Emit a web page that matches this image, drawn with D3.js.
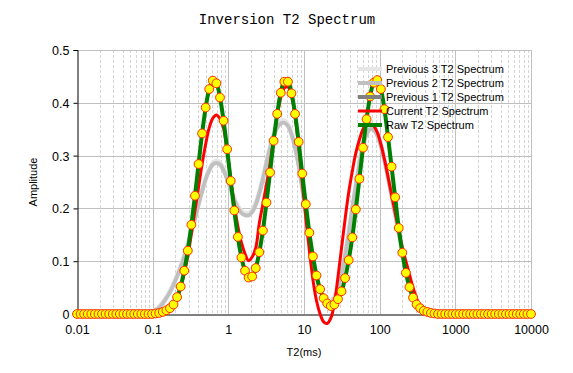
<!DOCTYPE html>
<html>
<head>
<meta charset="utf-8">
<script src="https://cdn.jsdelivr.net/npm/d3@7"></script>
<style>
  html, body { margin: 0; padding: 0; background: #fff; }
  svg { display: block; font-family: "Liberation Sans", Arial, sans-serif; }
</style>
</head>
<body>
<svg id="chart" width="573" height="373"></svg>
<script>
/* Inversion T2 spectrum: raw vs current vs previous inversions */

// T2 bins: 128 log-spaced bins from 0.01 to 10000 ms
const T2_COUNT = 128;
const T2_MIN = 0.01;
const T2_MAX = 10000;

const xTicks = [0.01, 0.1, 1, 10, 100, 1000, 10000];
const xTickLabels = ['0.01', '0.1', '1', '10', '100', '1000', '10000'];
const yTicks = [0, 0.1, 0.2, 0.3, 0.4, 0.5];
const yTickLabels = ['0', '0.1', '0.2', '0.3', '0.4', '0.5'];

const seriesNames = ['Previous 3 T2 Spectrum', 'Previous 2 T2 Spectrum', 'Previous 1 T2 Spectrum', 'Current T2 Spectrum', 'Raw T2 Spectrum'];

const previous3 = [
  0, 0, 0, 0, 0, 0, 0, 0, 0, 0, 0, 0, 0, 0, 0, 0, 0, 0, 0, 0,
  0.002, 0.005, 0.009, 0.015, 0.023, 0.033, 0.045, 0.059, 0.075, 0.093,
  0.113, 0.135, 0.16, 0.185, 0.211, 0.236, 0.258, 0.276, 0.287, 0.291,
  0.287, 0.276, 0.259, 0.24, 0.221, 0.206, 0.196, 0.192, 0.192, 0.198,
  0.212, 0.233, 0.26, 0.29, 0.318, 0.342, 0.358, 0.366, 0.367, 0.361,
  0.345, 0.32, 0.285, 0.243, 0.197, 0.151, 0.109, 0.075, 0.05, 0.034,
  0.026, 0.026, 0.034, 0.052, 0.08, 0.115, 0.157, 0.203, 0.248, 0.289,
  0.323, 0.345, 0.355, 0.354, 0.343, 0.323, 0.295, 0.263, 0.228, 0.193,
  0.158, 0.125, 0.094, 0.067, 0.044, 0.026, 0.013, 0.005, 0.001,
  0, 0, 0, 0, 0, 0, 0, 0, 0, 0, 0, 0, 0, 0, 0, 0, 0, 0, 0, 0, 0, 0, 0, 0, 0, 0, 0, 0, 0
];

const previous2 = [
  0, 0, 0, 0, 0, 0, 0, 0, 0, 0, 0, 0, 0, 0, 0, 0, 0, 0, 0, 0, 0,
  0.003, 0.007, 0.012, 0.02, 0.03, 0.041, 0.055, 0.071, 0.088,
  0.108, 0.13, 0.155, 0.18, 0.207, 0.232, 0.255, 0.272, 0.283, 0.286,
  0.283, 0.272, 0.255, 0.236, 0.216, 0.201, 0.191, 0.187, 0.187, 0.193,
  0.207, 0.228, 0.255, 0.285, 0.313, 0.337, 0.353, 0.361, 0.362, 0.356,
  0.34, 0.315, 0.28, 0.238, 0.192, 0.146, 0.104, 0.07, 0.045, 0.03,
  0.022, 0.022, 0.03, 0.048, 0.075, 0.11, 0.152, 0.198, 0.243, 0.284,
  0.318, 0.34, 0.35, 0.349, 0.338, 0.318, 0.29, 0.258, 0.223, 0.188,
  0.153, 0.12, 0.089, 0.062, 0.04, 0.022, 0.01, 0.003,
  0, 0, 0, 0, 0, 0, 0, 0, 0, 0, 0, 0, 0, 0, 0, 0, 0, 0, 0, 0, 0, 0, 0, 0, 0, 0, 0, 0, 0, 0
];

// hidden under the other curves in the reference
const previous1 = [];

const current = [
  0, 0, 0, 0, 0, 0, 0, 0, 0, 0, 0, 0, 0, 0, 0, 0, 0, 0, 0, 0, 0, 0, 0, 0,
  0.001, 0.003, 0.007, 0.015, 0.03, 0.05,
  0.077, 0.11, 0.152, 0.196, 0.24, 0.284, 0.322, 0.353, 0.371, 0.377,
  0.37, 0.352, 0.308, 0.255, 0.207, 0.166, 0.135, 0.114, 0.101, 0.108,
  0.125, 0.172, 0.208, 0.245, 0.285, 0.33, 0.375, 0.41, 0.428, 0.43,
  0.413, 0.375, 0.318, 0.25, 0.183, 0.12, 0.065, 0.025, 0, -0.015,
  -0.018, -0.008, 0.02, 0.07, 0.125, 0.18, 0.23, 0.27, 0.305, 0.33,
  0.35, 0.36, 0.36, 0.356, 0.344, 0.322, 0.293, 0.26, 0.226, 0.192,
  0.158, 0.126, 0.1, 0.075, 0.05, 0.03, 0.012, 0,
  0, 0, 0, 0, 0, 0, 0, 0, 0, 0, 0, 0, 0, 0, 0, 0, 0, 0, 0, 0, 0, 0, 0, 0, 0, 0, 0, 0, 0, 0
];

const raw = [
  0, 0, 0, 0, 0, 0, 0, 0, 0, 0, 0, 0, 0, 0, 0, 0, 0, 0, 0, 0, 0, 0,
  0.001, 0.002, 0.004, 0.007, 0.011, 0.018, 0.032, 0.052,
  0.082, 0.12, 0.169, 0.224, 0.284, 0.342, 0.391, 0.426, 0.442, 0.437,
  0.41, 0.366, 0.312, 0.252, 0.196, 0.146, 0.107, 0.082, 0.069, 0.071,
  0.087, 0.117, 0.158, 0.211, 0.268, 0.328, 0.379, 0.419, 0.44, 0.44,
  0.418, 0.379, 0.326, 0.266, 0.208, 0.154, 0.109, 0.073, 0.047, 0.03,
  0.02, 0.015, 0.018, 0.028, 0.043, 0.068, 0.102, 0.145, 0.198, 0.256,
  0.315, 0.369, 0.412, 0.438, 0.443, 0.426, 0.388, 0.335, 0.279, 0.221,
  0.163, 0.116, 0.078, 0.051, 0.031, 0.018, 0.011, 0.006, 0.004, 0.002,
  0.001,
  0, 0, 0, 0, 0, 0, 0, 0, 0, 0, 0, 0, 0, 0, 0, 0, 0, 0, 0, 0, 0, 0, 0, 0, 0, 0, 0
];

(function () {
  const W = 573, H = 373;
  const PLOT = { left: 77, right: 531, top: 50, bottom: 314 };
  const GRID = '#c0c0c0';
  const MINOR = '#d4d4d4';
  const COLORS = ['#e6e6e6', '#c0c0c0', '#808080', '#ff0000', '#008000'];
  const WIDTHS = [4, 4, 4, 3, 4];

  const t2 = d3.range(T2_COUNT).map((i) => T2_MIN * Math.pow(T2_MAX / T2_MIN, i / (T2_COUNT - 1)));

  const svg = d3.select('#chart').attr('viewBox', '0 0 ' + W + ' ' + H);
  svg.append('rect').attr('width', W).attr('height', H).attr('fill', '#fff');

  const x = d3.scaleLog().domain([T2_MIN, T2_MAX]).range([PLOT.left, PLOT.right]);
  const y = d3.scaleLinear().domain([0, 0.5]).range([PLOT.bottom, PLOT.top]);

  // minor (dashed) vertical grid
  const minor = [];
  xTicks.slice(0, -1).forEach((d) => {
    for (let k = 2; k <= 9; k++) minor.push(d * k);
  });
  svg.append('g').selectAll('line').data(minor).join('line')
    .attr('x1', (d) => Math.round(x(d)) + 0.5).attr('x2', (d) => Math.round(x(d)) + 0.5)
    .attr('y1', PLOT.top).attr('y2', PLOT.bottom)
    .attr('stroke', MINOR).attr('stroke-dasharray', '3,2');

  // major grid
  svg.append('g').selectAll('line').data(xTicks.slice(1)).join('line')
    .attr('x1', (d) => Math.round(x(d)) + 0.5).attr('x2', (d) => Math.round(x(d)) + 0.5)
    .attr('y1', PLOT.top).attr('y2', PLOT.bottom)
    .attr('stroke', GRID);
  svg.append('g').selectAll('line').data(yTicks.slice(1)).join('line')
    .attr('x1', PLOT.left).attr('x2', PLOT.right)
    .attr('y1', (d) => Math.round(y(d)) + 0.5).attr('y2', (d) => Math.round(y(d)) + 0.5)
    .attr('stroke', GRID);

  // axes
  const yAxis = svg.append('g')
    .attr('transform', 'translate(' + (PLOT.left + 0.5) + ',0)')
    .call(d3.axisLeft(y).tickValues(yTicks).tickFormat((d, i) => yTickLabels[i]).tickSize(4).tickPadding(4));
  const xAxis = svg.append('g')
    .attr('transform', 'translate(0,' + (PLOT.bottom + 0.5) + ')')
    .call(d3.axisBottom(x).tickValues(xTicks).tickFormat((d, i) => xTickLabels[i]).tickSize(0).tickPadding(11));
  [xAxis, yAxis].forEach((g) => {
    g.select('.domain').attr('stroke', '#000');
    g.selectAll('.tick line').attr('stroke', '#000');
    g.selectAll('text').attr('fill', '#000').attr('font-size', 12.5)
      .attr('font-family', '"Liberation Sans", Arial, sans-serif');
  });
  yAxis.selectAll('text').attr('dy', '0.36em');

  // series lines
  const line = d3.line()
    .x((d, i) => x(t2[i]))
    .y((d) => y(d))
    .curve(d3.curveCatmullRom.alpha(0.5));
  const series = [previous3, previous2, previous1, current, raw];
  series.forEach((vals, k) => {
    if (!vals.length) return;
    svg.append('path')
      .datum(vals)
      .attr('d', line)
      .attr('fill', 'none')
      .attr('stroke', COLORS[k])
      .attr('stroke-width', WIDTHS[k])
      .attr('stroke-linejoin', 'round');
  });

  // raw markers
  svg.append('g').selectAll('circle').data(raw).join('circle')
    .attr('cx', (d, i) => x(t2[i]))
    .attr('cy', (d) => y(d))
    .attr('r', 4.4)
    .attr('fill', '#ffff00')
    .attr('stroke', '#ff2a00')
    .attr('stroke-width', 1);

  // legend
  const legend = svg.append('g').attr('transform', 'translate(358,69)');
  seriesNames.forEach((name, k) => {
    const row = legend.append('g').attr('transform', 'translate(0,' + (k * 14) + ')');
    row.append('line')
      .attr('x1', 0).attr('x2', 24).attr('y1', 0).attr('y2', 0)
      .attr('stroke', COLORS[k]).attr('stroke-width', WIDTHS[k]);
    row.append('text')
      .attr('x', 28).attr('y', 4)
      .attr('font-size', 11).attr('fill', '#000')
      .text(name);
  });

  // titles
  svg.append('text')
    .attr('x', 287).attr('y', 24)
    .attr('text-anchor', 'middle')
    .attr('font-family', '"Liberation Mono", "DejaVu Sans Mono", monospace')
    .attr('font-size', 14)
    .attr('fill', '#000')
    .text('Inversion T2 Spectrum');
  svg.append('text')
    .attr('x', 304).attr('y', 356)
    .attr('text-anchor', 'middle')
    .attr('font-size', 11).attr('fill', '#000')
    .text('T2(ms)');
  svg.append('text')
    .attr('transform', 'translate(37,182) rotate(-90)')
    .attr('text-anchor', 'middle')
    .attr('font-size', 11).attr('fill', '#000')
    .text('Amplitude');
})();
</script>
</body>
</html>
